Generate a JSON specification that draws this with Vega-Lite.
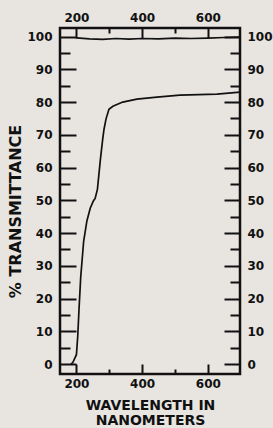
{
  "$schema": "https://vega.github.io/schema/vega-lite/v6.json",
  "autosize": "none",
  "padding": {"left": 60, "top": 28, "right": 33, "bottom": 54},
  "width": 180,
  "height": 346,
  "background": "#e8e5e1",
  "config": {
    "view": {"stroke": "#111111", "strokeWidth": 2.5},
    "axis": {
      "domain": false,
      "grid": false,
      "tickColor": "#111111",
      "tickWidth": 2,
      "labelFont": "DejaVu Sans",
      "labelFontWeight": "bold",
      "labelFontSize": 12,
      "labelColor": "#111111",
      "titleFont": "DejaVu Sans",
      "titleFontWeight": "bold",
      "titleColor": "#111111"
    }
  },
  "data": {
    "values": [
      {"series": "sample", "wl": 183, "t": 0},
      {"series": "sample", "wl": 189, "t": 0.5},
      {"series": "sample", "wl": 200, "t": 2.9},
      {"series": "sample", "wl": 204, "t": 8.5},
      {"series": "sample", "wl": 208, "t": 17},
      {"series": "sample", "wl": 213, "t": 26.5},
      {"series": "sample", "wl": 222, "t": 37.5},
      {"series": "sample", "wl": 232, "t": 43.8},
      {"series": "sample", "wl": 242, "t": 47.6},
      {"series": "sample", "wl": 252, "t": 49.9},
      {"series": "sample", "wl": 257, "t": 50.6},
      {"series": "sample", "wl": 264, "t": 53.4},
      {"series": "sample", "wl": 273, "t": 62.5},
      {"series": "sample", "wl": 280, "t": 68.7},
      {"series": "sample", "wl": 284, "t": 71.7},
      {"series": "sample", "wl": 290, "t": 74.8},
      {"series": "sample", "wl": 299, "t": 77.8},
      {"series": "sample", "wl": 311, "t": 78.7},
      {"series": "sample", "wl": 341, "t": 80.0},
      {"series": "sample", "wl": 384, "t": 80.9},
      {"series": "sample", "wl": 445, "t": 81.5},
      {"series": "sample", "wl": 515, "t": 82.1},
      {"series": "sample", "wl": 628, "t": 82.4},
      {"series": "sample", "wl": 698, "t": 83.0},
      {"series": "reference", "wl": 200, "t": 99.6},
      {"series": "reference", "wl": 240, "t": 99.3},
      {"series": "reference", "wl": 280, "t": 99.1},
      {"series": "reference", "wl": 320, "t": 99.4},
      {"series": "reference", "wl": 360, "t": 99.2},
      {"series": "reference", "wl": 400, "t": 99.4},
      {"series": "reference", "wl": 450, "t": 99.3},
      {"series": "reference", "wl": 500, "t": 99.5},
      {"series": "reference", "wl": 550, "t": 99.4},
      {"series": "reference", "wl": 600, "t": 99.5},
      {"series": "reference", "wl": 650, "t": 99.7},
      {"series": "reference", "wl": 698, "t": 99.8}
    ]
  },
  "resolve": {"axis": {"x": "independent", "y": "independent"}},
  "layer": [
    {
      "mark": {"type": "line", "color": "#111111", "strokeWidth": 1.7},
      "encoding": {
        "x": {
          "field": "wl", "type": "quantitative",
          "scale": {"domain": [150, 698], "nice": false, "zero": false},
          "axis": {
            "orient": "bottom",
            "values": [200, 400, 600],
            "tickSize": -10,
            "labelPadding": 14,
            "title": ["WAVELENGTH IN", "NANOMETERS"],
            "titleFontSize": 14,
            "titleLineHeight": 15,
            "titlePadding": 9
          }
        },
        "y": {
          "field": "t", "type": "quantitative",
          "scale": {"domain": [-3, 102.6], "nice": false, "zero": false},
          "axis": {
            "orient": "left",
            "values": [0, 10, 20, 30, 40, 50, 60, 70, 80, 90, 100],
            "tickSize": -16,
            "labelPadding": 24,
            "title": "% TRANSMITTANCE",
            "titleFontSize": 16,
            "titlePadding": 3,
            "titleY": 183
          }
        },
        "detail": {"field": "series"}
      }
    },
    {
      "mark": {"type": "line", "strokeOpacity": 0},
      "encoding": {
        "x": {
          "field": "wl", "type": "quantitative",
          "axis": {
            "orient": "top",
            "values": [200, 400, 600],
            "tickSize": -10,
            "labelPadding": 14,
            "title": null
          }
        },
        "y": {
          "field": "t", "type": "quantitative",
          "axis": {
            "orient": "right",
            "values": [0, 10, 20, 30, 40, 50, 60, 70, 80, 90, 100],
            "tickSize": -16,
            "labelPadding": 23,
            "title": null
          }
        },
        "detail": {"field": "series"}
      }
    },
    {
      "mark": {"type": "line", "strokeOpacity": 0},
      "encoding": {
        "x": {
          "field": "wl", "type": "quantitative",
          "axis": {
            "orient": "bottom",
            "values": [300, 500],
            "tickSize": -5,
            "labels": false,
            "title": null
          }
        },
        "y": {
          "field": "t", "type": "quantitative",
          "axis": {
            "orient": "left",
            "values": [5, 15, 25, 35, 45, 55, 65, 75, 85, 95],
            "tickSize": -10,
            "labels": false,
            "title": null
          }
        },
        "detail": {"field": "series"}
      }
    },
    {
      "mark": {"type": "line", "strokeOpacity": 0},
      "encoding": {
        "x": {
          "field": "wl", "type": "quantitative",
          "axis": {
            "orient": "top",
            "values": [300, 500],
            "tickSize": -5,
            "labels": false,
            "title": null
          }
        },
        "y": {
          "field": "t", "type": "quantitative",
          "axis": {
            "orient": "right",
            "values": [5, 15, 25, 35, 45, 55, 65, 75, 85, 95],
            "tickSize": -10,
            "labels": false,
            "title": null
          }
        },
        "detail": {"field": "series"}
      }
    }
  ]
}
